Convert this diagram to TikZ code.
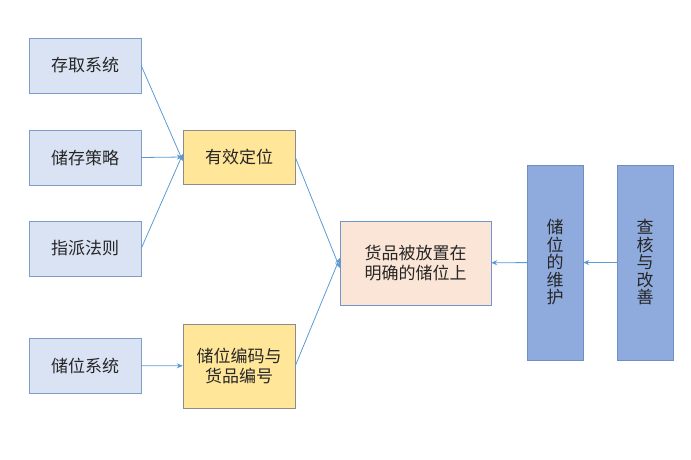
\documentclass[tikz,border=0pt]{standalone}
\usepackage{fontspec}
\setmainfont{Noto Sans CJK SC}
\usetikzlibrary{arrows.meta}
\definecolor{srcfill}{HTML}{DAE3F3}
\definecolor{srcline}{HTML}{7F9CC8}
\definecolor{midfill}{HTML}{FFE699}
\definecolor{midline}{HTML}{8C8C8C}
\definecolor{goalfill}{HTML}{FBE5D6}
\definecolor{goalline}{HTML}{6F95C9}
\definecolor{keepfill}{HTML}{8FAADC}
\definecolor{keepline}{HTML}{6F8FC4}
\definecolor{arrowblue}{HTML}{5B9BD5}
\begin{document}
\begin{tikzpicture}[x=1pt,y=-1pt,
    every node/.style={inner sep=0pt,align=center,text=black!85,
      font=\fontsize{17}{20}\selectfont},
    srcbox/.style={draw=srcline,fill=srcfill,minimum width=112pt,minimum height=55pt},
    midbox/.style={draw=midline,fill=midfill,minimum width=112pt},
    goalbox/.style={draw=goalline,fill=goalfill,minimum width=151pt,minimum height=84pt},
    keepbox/.style={draw=keepline,fill=keepfill,minimum width=56pt,minimum height=195pt,
      font=\fontsize{17}{17.5}\selectfont},
    link/.style={draw=arrowblue,line width=0.8pt,-{Stealth[length=6pt,width=5pt]}}]
  \useasboundingbox (0,0) rectangle (691,459);
  \draw
    (85,65.5) node[srcbox] (access){存取系统}
    (85,157.5) node[srcbox] (strategy){储存策略}
    (85,248.5) node[srcbox] (assign){指派法则}
    (85,365.5) node[srcbox] (slotsys){储位系统}
    (239,157) node[midbox,minimum height=54pt] (locate){有效定位}
    (239,366) node[midbox,minimum height=84pt] (coding){储位编码与\\货品编号}
    (415.5,263) node[goalbox] (placed){货品被放置在\\明确的储位上}
    (555,262.5) node[keepbox] (upkeep){储\\位\\的\\维\\护}
    (645,262.5) node[keepbox] (review){查\\核\\与\\改\\善};
  \begin{scope}[link]
    \draw (access.east) to ([yshift=-4pt]locate.west);
    \draw (strategy.east) to (locate.west);
    \draw (assign.east) to ([yshift=3pt]locate.west);
    \draw (slotsys) to (coding);
    \draw (locate.east) to ([yshift=-5pt]placed.west);
    \draw (coding.east) to ([yshift=5pt]placed.west);
    \draw (upkeep) to (placed);
    \draw (review) to (upkeep);
  \end{scope}
\end{tikzpicture}
\end{document}
